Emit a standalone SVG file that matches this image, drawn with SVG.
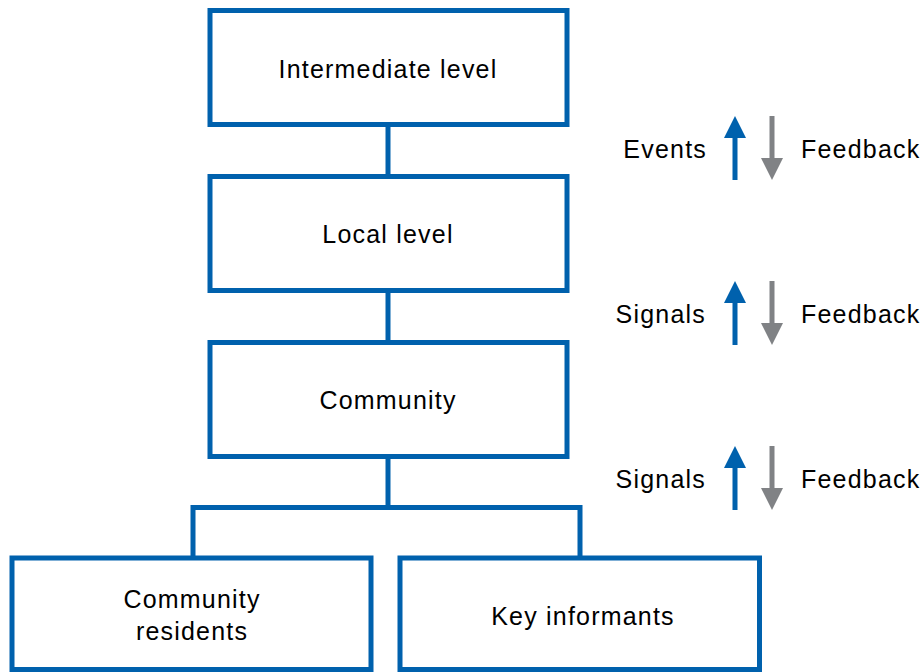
<svg xmlns="http://www.w3.org/2000/svg" width="922" height="672" viewBox="0 0 922 672">
<style>
.box{fill:#fff;stroke:#0061AD;stroke-width:5}
.con{fill:none;stroke:#0061AD;stroke-width:5}
text{font-family:"Liberation Sans",Arial,Helvetica,sans-serif;font-size:25px;letter-spacing:1.2px;fill:#000}
.c{text-anchor:middle}
.e{text-anchor:end}
.up{fill:#0061AD}
.down{fill:#808285}
</style>
<defs>
<path id="upArrow" class="up" d="M732.5,180 V138 H724 L735,116 L746,138 H737.5 V180 Z"/>
<path id="downArrow" class="down" d="M769.5,116 V158 H761 L772,180 L783,158 H774.5 V116 Z"/>
</defs>
<g id="connectors">
<line class="con" x1="388" y1="124.5" x2="388" y2="176.5"/>
<line class="con" x1="388" y1="290.5" x2="388" y2="342.5"/>
<line class="con" x1="388" y1="456.5" x2="388" y2="507.5"/>
<polyline class="con" points="193,558 193,507.5 580,507.5 580,558"/>
</g>
<g id="intermediate">
<rect class="box" x="210" y="10.5" width="357" height="114"/>
<text class="c" x="388" y="78">Intermediate level</text>
</g>
<g id="local">
<rect class="box" x="210" y="176.5" width="357" height="114"/>
<text class="c" x="388" y="243">Local level</text>
</g>
<g id="community">
<rect class="box" x="210" y="342.5" width="357" height="114"/>
<text class="c" x="388" y="409">Community</text>
</g>
<g id="residents">
<rect class="box" x="12" y="558" width="359" height="111.5"/>
<text class="c" x="192" y="608">Community</text>
<text class="c" x="192" y="640">residents</text>
</g>
<g id="informants">
<rect class="box" x="400" y="558" width="359.5" height="111.5"/>
<text class="c" x="583" y="625">Key informants</text>
</g>
<g id="flow1">
<text class="e" x="707" y="158">Events</text>
<use href="#upArrow"/>
<use href="#downArrow"/>
<text x="801" y="158">Feedback</text>
</g>
<g id="flow2">
<text class="e" x="706" y="323">Signals</text>
<use href="#upArrow" transform="translate(0,165)"/>
<use href="#downArrow" transform="translate(0,165)"/>
<text x="801" y="323">Feedback</text>
</g>
<g id="flow3">
<text class="e" x="706" y="488">Signals</text>
<use href="#upArrow" transform="translate(0,330)"/>
<use href="#downArrow" transform="translate(0,330)"/>
<text x="801" y="488">Feedback</text>
</g>
</svg>
